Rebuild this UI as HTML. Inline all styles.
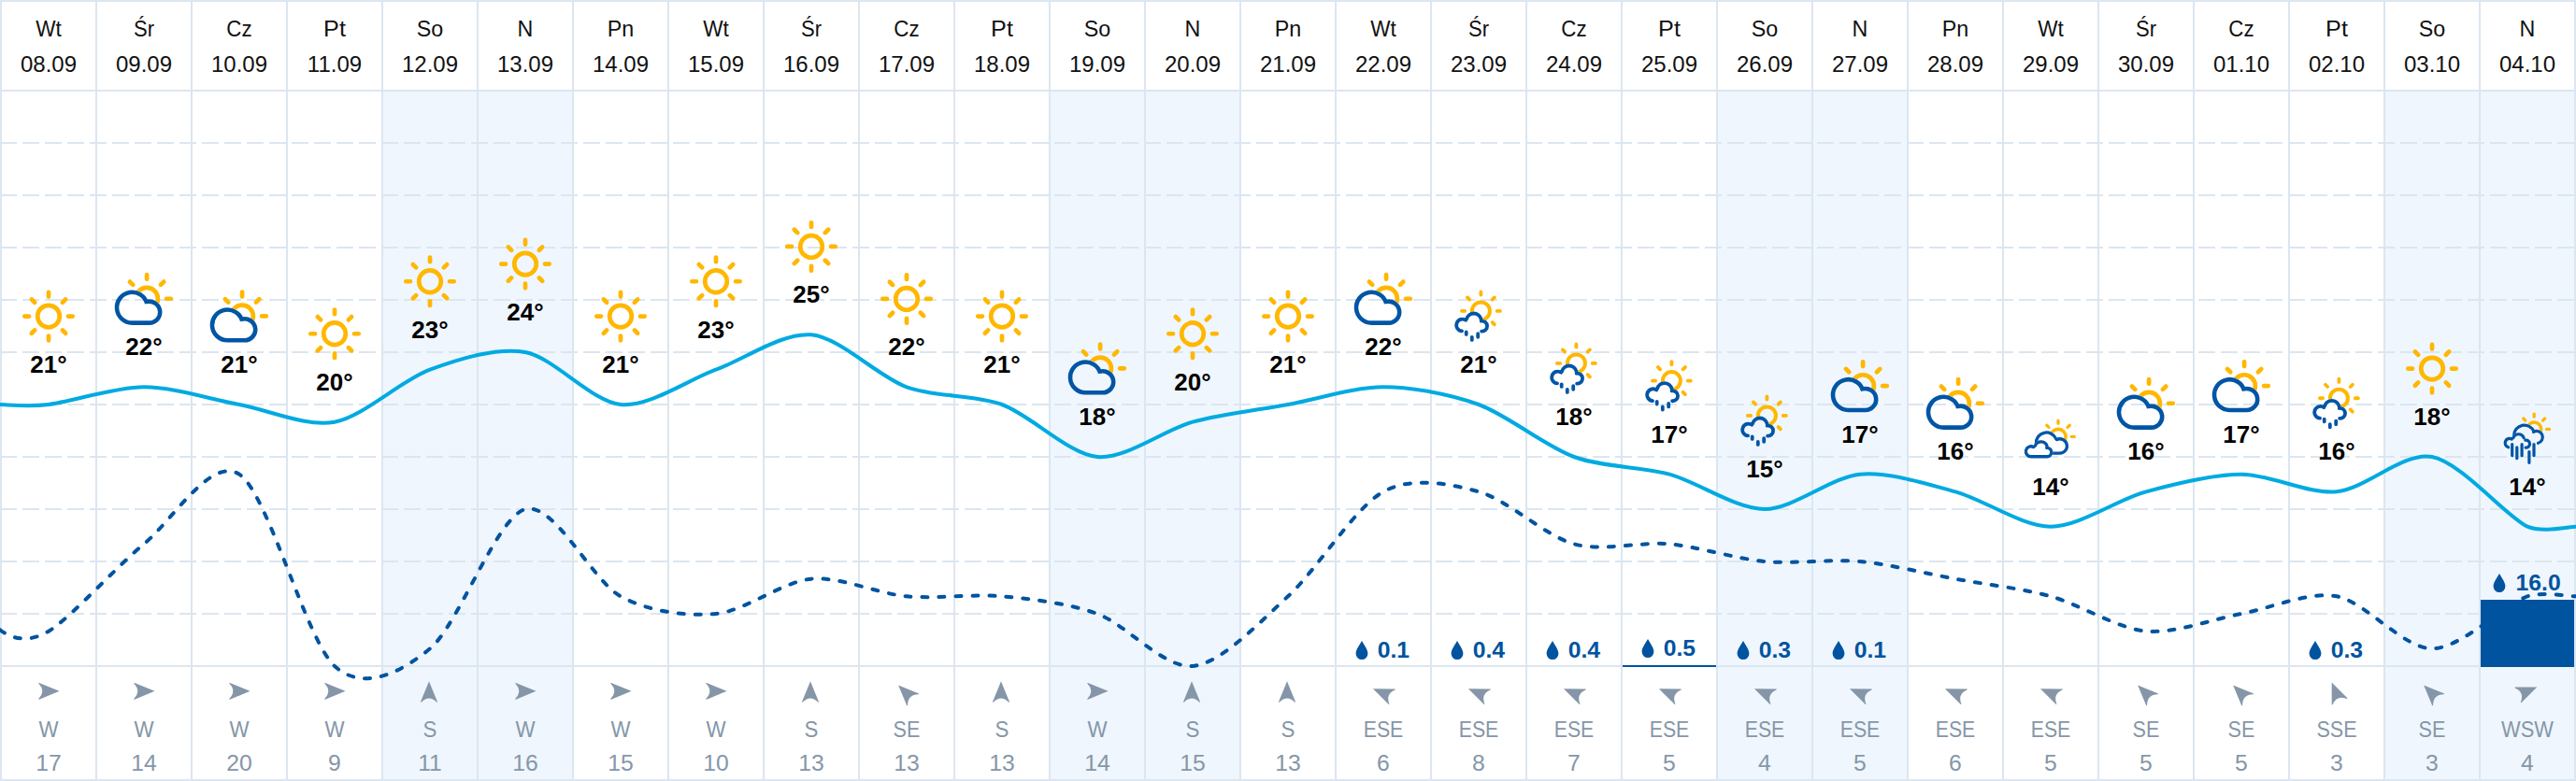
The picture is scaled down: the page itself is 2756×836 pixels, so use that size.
<!DOCTYPE html>
<html lang="pl"><head><meta charset="utf-8"><title>Prognoza długoterminowa</title>
<style>html,body{margin:0;padding:0;background:#fff}body{width:2756px;height:836px;overflow:hidden}svg{display:block}</style>
</head><body>
<svg width="2756" height="836" viewBox="0 0 2756 836">
<defs>
<g id="sun"><circle cx="0" cy="0" r="11.8" fill="none" stroke="#ffb700" stroke-width="4.7"/><path d="M21.00,0.00L25.70,0.00M14.85,14.85L18.17,18.17M0.00,21.00L0.00,25.70M-14.85,14.85L-18.17,18.17M-21.00,0.00L-25.70,0.00M-14.85,-14.85L-18.17,-18.17M-0.00,-21.00L-0.00,-25.70M14.85,-14.85L18.17,-18.17" stroke="#ffb700" stroke-width="4.7" stroke-linecap="round" fill="none"/></g>
<mask id="mcs" maskUnits="userSpaceOnUse" x="-40" y="-40" width="80" height="80"><rect x="-40" y="-40" width="80" height="80" fill="#fff"/><circle cx="-12.6" cy="9.3" r="18.7" fill="#000"/><circle cx="5.7" cy="14.2" r="13.8" fill="#000"/><rect x="-12.6" y="9.3" width="18.3" height="18.7" fill="#000"/></mask>
<g id="cs"><g mask="url(#mcs)"><circle cx="3.1" cy="-0.2" r="11.8" fill="none" stroke="#ffb700" stroke-width="4.7"/><path d="M-11.75,-15.05L-15.07,-18.37M3.10,-21.20L3.10,-25.90M17.95,-15.05L21.27,-18.37M24.10,-0.20L28.80,-0.20" stroke="#ffb700" stroke-width="4.7" stroke-linecap="round" fill="none"/></g><path d="M5.7,25.7L-12.6,25.7L-12.60,25.70A16.4,16.4 0 1 1 3.24,5.06M2.72,3.09A11.5,11.5 0 1 1 5.70,25.70" fill="none" stroke="#0055a5" stroke-width="4.6" stroke-linecap="butt" stroke-linejoin="round"/></g>
<mask id="mrs" maskUnits="userSpaceOnUse" x="-40" y="-40" width="80" height="80"><rect x="-40" y="-40" width="80" height="80" fill="#fff"/><circle cx="-17.4" cy="10.0" r="8.3" fill="#000"/><circle cx="-5.2" cy="5.5" r="9.9" fill="#000"/><circle cx="3.6" cy="11.1" r="7.4" fill="#000"/><rect x="-17.4" y="5.5" width="21.0" height="12" fill="#000"/></mask>
<g id="rs"><g mask="url(#mrs)"><circle cx="2.4" cy="-5.1" r="9.5" fill="none" stroke="#ffb700" stroke-width="4"/><path d="M-14.90,-5.10L-18.10,-5.10M-9.83,-17.33L-12.10,-19.60M2.40,-22.40L2.40,-25.60M14.63,-17.33L16.90,-19.60M19.70,-5.10L22.90,-5.10M14.63,7.13L16.90,9.40" stroke="#ffb700" stroke-width="3.8" stroke-linecap="round" fill="none"/></g><path d="M-17.96,16.38A6.4,6.4 0 1 1 -13.73,4.76M-12.93,3.43A8.0,8.0 0 0 1 2.53,3.43M2.64,5.68A5.5,5.5 0 1 1 3.12,16.58M-13.3,17.3V19.9M-7.2,22.8V25.9M-0.8,19.2V22.8" fill="none" stroke="#0055a5" stroke-width="3.8" stroke-linecap="round"/></g>
<mask id="mccs" maskUnits="userSpaceOnUse" x="-40" y="-40" width="80" height="80"><rect x="-40" y="-40" width="80" height="80" fill="#fff"/><circle cx="-4.5" cy="5.4" r="12.75" fill="#000"/><circle cx="9.7" cy="8.8" r="9.35" fill="#000"/></mask>
<mask id="mccf" maskUnits="userSpaceOnUse" x="-40" y="-40" width="80" height="80"><rect x="-40" y="-40" width="80" height="80" fill="#fff"/><circle cx="-21.1" cy="14.6" r="7.15" fill="#000"/><circle cx="-10.3" cy="10.9" r="8.35" fill="#000"/><circle cx="-3.9" cy="15.4" r="6.35" fill="#000"/><rect x="-21.1" y="10.9" width="17.200000000000003" height="10.85" fill="#000"/></mask>
<g id="ccs"><g mask="url(#mccs)"><circle cx="8" cy="-1.2" r="8.1" fill="none" stroke="#ffb700" stroke-width="3.6"/><path d="M-2.04,-11.24L-4.23,-13.43M8.00,-15.40L8.00,-18.50M18.04,-11.24L20.23,-13.43M22.20,-1.20L25.30,-1.20" stroke="#ffb700" stroke-width="3.3" stroke-linecap="round" fill="none"/></g><g mask="url(#mccf)"><path d="M-15.56,6.37A11.1,11.1 0 0 1 5.79,1.24M6.45,1.82A7.7,7.7 0 1 1 9.70,16.50L2,16.50" fill="none" stroke="#0055a5" stroke-width="3.3" stroke-linecap="round"/></g><path d="M-3.9,20.1L-21.1,20.1L-21.10,20.10A5.5,5.5 0 1 1 -18.35,9.84M-16.60,8.61A6.7,6.7 0 0 1 -3.83,9.17M-4.31,10.72A4.7,4.7 0 1 1 -3.90,20.10" fill="none" stroke="#0055a5" stroke-width="3.3" stroke-linecap="round" stroke-linejoin="round"/></g>
<mask id="mhs" maskUnits="userSpaceOnUse" x="-40" y="-40" width="80" height="80"><rect x="-40" y="-40" width="80" height="80" fill="#fff"/><circle cx="-3.3" cy="-2.5" r="12.7" fill="#000"/><circle cx="9.8" cy="-0.7" r="8.1" fill="#000"/></mask>
<mask id="mhf" maskUnits="userSpaceOnUse" x="-40" y="-40" width="80" height="80"><rect x="-40" y="-40" width="80" height="80" fill="#fff"/><circle cx="-19.1" cy="5.5" r="6.4" fill="#000"/><circle cx="-9.5" cy="2.1" r="7.6" fill="#000"/><circle cx="-1.5" cy="6.5" r="5.6" fill="#000"/></mask>
<g id="hrs"><g mask="url(#mhs)"><circle cx="7.2" cy="-9.2" r="7.5" fill="none" stroke="#ffb700" stroke-width="3.5"/><path d="M-2.28,-18.68L-4.33,-20.73M7.20,-22.60L7.20,-25.50M16.68,-18.68L18.73,-20.73M20.60,-9.20L23.50,-9.20" stroke="#ffb700" stroke-width="3.3" stroke-linecap="round" fill="none"/></g><g mask="url(#mhf)"><path d="M-14.39,-2.11A11.1,11.1 0 0 1 6.99,-6.66M6.55,-6.33A6.5,6.5 0 1 1 11.48,5.58" fill="none" stroke="#0055a5" stroke-width="3.2" stroke-linecap="round"/></g><path d="M-20.34,10.14A4.8,4.8 0 1 1 -16.70,1.34M-15.14,0.05A6.0,6.0 0 0 1 -3.86,0.05M-2.19,2.56A4.0,4.0 0 1 1 -1.85,10.48M-16.3,6.9V19M-11.2,10.1V22.1M-5.9,6.9V19M1.9,14.9V26.7M7,6.9V19" fill="none" stroke="#0055a5" stroke-width="3.2" stroke-linecap="round"/></g>
<path id="arw" d="M0,-11.2L8.9,10.4Q9.2,11.6 8,10.9Q0,3.2 -8,10.9Q-9.2,11.6 -8.9,10.4Z" fill="#8596a8"/>
<path id="drop" d="M0,-10C2.2,-6 6.4,-0.6 6.4,3.6A6.4,6.4 0 0 1 -6.4,3.6C-6.4,-0.6 -2.2,-6 0,-10Z" fill="#00539f"/>
</defs>
<rect width="2756" height="836" fill="#fff"/>
<rect x="408" y="98" width="206" height="736" fill="#eff6fd"/>
<rect x="1122" y="98" width="206" height="736" fill="#eff6fd"/>
<rect x="1836" y="98" width="206" height="736" fill="#eff6fd"/>
<rect x="2550" y="98" width="206" height="736" fill="#eff6fd"/>
<path d="M0,153H2756M0,209H2756M0,265H2756M0,321H2756M0,377H2756M0,433H2756M0,489H2756M0,545H2756M0,601H2756M0,657H2756" stroke="#dbe6f0" stroke-width="2" stroke-dasharray="18 6" fill="none"/>
<path d="M1,0V836M103,0V836M205,0V836M307,0V836M409,0V836M511,0V836M613,0V836M715,0V836M817,0V836M919,0V836M1021,0V836M1123,0V836M1225,0V836M1327,0V836M1429,0V836M1531,0V836M1633,0V836M1735,0V836M1837,0V836M1939,0V836M2041,0V836M2143,0V836M2245,0V836M2347,0V836M2449,0V836M2551,0V836M2653,0V836M2755,0V836M0,1H2756M0,97H2756M0,713H2756M0,835H2756" stroke="#dbe6f0" stroke-width="2" fill="none"/>
<rect x="1736" y="712" width="100" height="2" fill="#00539f"/>
<rect x="2654" y="642" width="100" height="72" fill="#00539f"/>
<g font-family="'Liberation Sans',sans-serif" font-size="24" fill="#111" text-anchor="middle">
<text transform="translate(52,38.6) scale(0.94,1)">Wt</text><text x="52" y="77">08.09</text>
<text transform="translate(154,38.6) scale(0.92,1)">Śr</text><text x="154" y="77">09.09</text>
<text transform="translate(256,38.6) scale(0.93,1)">Cz</text><text x="256" y="77">10.09</text>
<text transform="translate(358,38.6) scale(1.05,1)">Pt</text><text x="358" y="77">11.09</text>
<text transform="translate(460,38.6) scale(0.97,1)">So</text><text x="460" y="77">12.09</text>
<text transform="translate(562,38.6) scale(0.97,1)">N</text><text x="562" y="77">13.09</text>
<text transform="translate(664,38.6) scale(0.97,1)">Pn</text><text x="664" y="77">14.09</text>
<text transform="translate(766,38.6) scale(0.94,1)">Wt</text><text x="766" y="77">15.09</text>
<text transform="translate(868,38.6) scale(0.92,1)">Śr</text><text x="868" y="77">16.09</text>
<text transform="translate(970,38.6) scale(0.93,1)">Cz</text><text x="970" y="77">17.09</text>
<text transform="translate(1072,38.6) scale(1.05,1)">Pt</text><text x="1072" y="77">18.09</text>
<text transform="translate(1174,38.6) scale(0.97,1)">So</text><text x="1174" y="77">19.09</text>
<text transform="translate(1276,38.6) scale(0.97,1)">N</text><text x="1276" y="77">20.09</text>
<text transform="translate(1378,38.6) scale(0.97,1)">Pn</text><text x="1378" y="77">21.09</text>
<text transform="translate(1480,38.6) scale(0.94,1)">Wt</text><text x="1480" y="77">22.09</text>
<text transform="translate(1582,38.6) scale(0.92,1)">Śr</text><text x="1582" y="77">23.09</text>
<text transform="translate(1684,38.6) scale(0.93,1)">Cz</text><text x="1684" y="77">24.09</text>
<text transform="translate(1786,38.6) scale(1.05,1)">Pt</text><text x="1786" y="77">25.09</text>
<text transform="translate(1888,38.6) scale(0.97,1)">So</text><text x="1888" y="77">26.09</text>
<text transform="translate(1990,38.6) scale(0.97,1)">N</text><text x="1990" y="77">27.09</text>
<text transform="translate(2092,38.6) scale(0.97,1)">Pn</text><text x="2092" y="77">28.09</text>
<text transform="translate(2194,38.6) scale(0.94,1)">Wt</text><text x="2194" y="77">29.09</text>
<text transform="translate(2296,38.6) scale(0.92,1)">Śr</text><text x="2296" y="77">30.09</text>
<text transform="translate(2398,38.6) scale(0.93,1)">Cz</text><text x="2398" y="77">01.10</text>
<text transform="translate(2500,38.6) scale(1.05,1)">Pt</text><text x="2500" y="77">02.10</text>
<text transform="translate(2602,38.6) scale(0.97,1)">So</text><text x="2602" y="77">03.10</text>
<text transform="translate(2704,38.6) scale(0.97,1)">N</text><text x="2704" y="77">04.10</text>
</g>
<g font-family="'Liberation Sans',sans-serif" font-size="24" font-weight="bold" fill="#00539f">
<use href="#drop" x="1457" y="696"/><text transform="translate(1473.7,704) scale(1.03,1)">0.1</text>
<use href="#drop" x="1559" y="696"/><text transform="translate(1575.7,704) scale(1.03,1)">0.4</text>
<use href="#drop" x="1661" y="696"/><text transform="translate(1677.7,704) scale(1.03,1)">0.4</text>
<use href="#drop" x="1763" y="694"/><text transform="translate(1779.7,702) scale(1.03,1)">0.5</text>
<use href="#drop" x="1865" y="696"/><text transform="translate(1881.7,704) scale(1.03,1)">0.3</text>
<use href="#drop" x="1967" y="696"/><text transform="translate(1983.7,704) scale(1.03,1)">0.1</text>
<use href="#drop" x="2477" y="696"/><text transform="translate(2493.7,704) scale(1.03,1)">0.3</text>
<use href="#drop" x="2674" y="624"/><text transform="translate(2691.6,632) scale(1.03,1)">16.0</text>
</g>
<path d="M0.00,674.20C8.00,680.60 27.00,690.87 52.00,675.67C75.10,661.89 123.40,607.53 154.00,582.33C184.60,557.13 225.40,488.07 256.00,507.67C286.60,527.27 327.40,685.00 358.00,713.00C388.60,741.00 429.40,719.53 460.00,694.33C490.60,669.13 531.40,553.40 562.00,545.00C592.60,536.60 633.40,621.53 664.00,638.33C694.60,655.13 735.40,659.80 766.00,657.00C796.60,654.20 837.40,622.47 868.00,619.67C898.60,616.87 939.40,635.53 970.00,638.33C1000.60,641.13 1041.40,635.53 1072.00,638.33C1102.60,641.13 1143.40,645.80 1174.00,657.00C1204.60,668.20 1245.40,715.80 1276.00,713.00C1306.60,710.20 1347.40,666.33 1378.00,638.33C1408.60,610.33 1449.40,543.13 1480.00,526.33C1510.60,509.53 1551.40,517.93 1582.00,526.33C1612.60,534.73 1653.40,573.93 1684.00,582.33C1714.60,590.73 1755.40,579.53 1786.00,582.33C1816.60,585.13 1857.40,598.20 1888.00,601.00C1918.60,603.80 1959.40,598.20 1990.00,601.00C2020.60,603.80 2061.40,614.07 2092.00,619.67C2122.60,625.27 2163.40,629.93 2194.00,638.33C2224.60,646.73 2265.40,672.87 2296.00,675.67C2326.60,678.47 2367.40,662.60 2398.00,657.00C2428.60,651.40 2469.40,632.73 2500.00,638.33C2530.60,643.93 2571.40,694.33 2602.00,694.33C2632.60,694.33 2680.90,646.73 2704.00,638.33C2720.17,633.13 2748.20,638.33 2756.00,638.33" fill="none" stroke="#00539f" stroke-width="4" stroke-dasharray="6 12" stroke-linecap="round"/>
<path d="M0.00,433.00C7.80,433.00 28.90,435.80 52.00,433.00C75.10,430.20 123.40,414.33 154.00,414.33C184.60,414.33 225.40,427.40 256.00,433.00C286.60,438.60 327.40,457.27 358.00,451.67C388.60,446.07 429.40,406.87 460.00,395.67C490.60,384.47 531.40,371.40 562.00,377.00C592.60,382.60 633.40,430.20 664.00,433.00C694.60,435.80 735.40,406.87 766.00,395.67C796.60,384.47 837.40,355.53 868.00,358.33C898.60,361.13 939.40,403.13 970.00,414.33C1000.60,425.53 1041.40,421.80 1072.00,433.00C1102.60,444.20 1143.40,486.20 1174.00,489.00C1204.60,491.80 1245.40,460.07 1276.00,451.67C1306.60,443.27 1347.40,438.60 1378.00,433.00C1408.60,427.40 1449.40,414.33 1480.00,414.33C1510.60,414.33 1551.40,421.80 1582.00,433.00C1612.60,444.20 1653.40,477.80 1684.00,489.00C1714.60,500.20 1755.40,499.27 1786.00,507.67C1816.60,516.07 1857.40,545.00 1888.00,545.00C1918.60,545.00 1959.40,510.47 1990.00,507.67C2020.60,504.87 2061.40,517.93 2092.00,526.33C2122.60,534.73 2163.40,563.67 2194.00,563.67C2224.60,563.67 2265.40,534.73 2296.00,526.33C2326.60,517.93 2367.40,507.67 2398.00,507.67C2428.60,507.67 2469.40,529.13 2500.00,526.33C2530.60,523.53 2571.40,483.40 2602.00,489.00C2632.60,494.60 2680.90,552.44 2704.00,563.67C2720.17,570.63 2748.20,563.84 2756.00,563.87" fill="none" stroke="#00aae1" stroke-width="4" stroke-linecap="round"/>
<use href="#sun" x="52" y="338.60"/>
<use href="#cs" x="154" y="319.93"/>
<use href="#cs" x="256" y="338.60"/>
<use href="#sun" x="358" y="357.27"/>
<use href="#sun" x="460" y="301.27"/>
<use href="#sun" x="562" y="282.60"/>
<use href="#sun" x="664" y="338.60"/>
<use href="#sun" x="766" y="301.27"/>
<use href="#sun" x="868" y="263.93"/>
<use href="#sun" x="970" y="319.93"/>
<use href="#sun" x="1072" y="338.60"/>
<use href="#cs" x="1174" y="394.60"/>
<use href="#sun" x="1276" y="357.27"/>
<use href="#sun" x="1378" y="338.60"/>
<use href="#cs" x="1480" y="319.93"/>
<use href="#rs" x="1582" y="338.00"/>
<use href="#rs" x="1684" y="394.00"/>
<use href="#rs" x="1786" y="412.67"/>
<use href="#rs" x="1888" y="450.00"/>
<use href="#cs" x="1990" y="413.27"/>
<use href="#cs" x="2092" y="431.93"/>
<use href="#ccs" x="2194" y="468.67"/>
<use href="#cs" x="2296" y="431.93"/>
<use href="#cs" x="2398" y="413.27"/>
<use href="#rs" x="2500" y="431.33"/>
<use href="#sun" x="2602" y="394.60"/>
<use href="#hrs" x="2704" y="468.67"/>
<g font-family="'Liberation Sans',sans-serif" font-size="26" font-weight="bold" fill="#000" text-anchor="middle">
<text x="52" y="399.0">21°</text>
<text x="154" y="380.33">22°</text>
<text x="256" y="399.0">21°</text>
<text x="358" y="417.67">20°</text>
<text x="460" y="361.67">23°</text>
<text x="562" y="343.0">24°</text>
<text x="664" y="399.0">21°</text>
<text x="766" y="361.67">23°</text>
<text x="868" y="324.33">25°</text>
<text x="970" y="380.33">22°</text>
<text x="1072" y="399.0">21°</text>
<text x="1174" y="455.0">18°</text>
<text x="1276" y="417.67">20°</text>
<text x="1378" y="399.0">21°</text>
<text x="1480" y="380.33">22°</text>
<text x="1582" y="399.0">21°</text>
<text x="1684" y="455.0">18°</text>
<text x="1786" y="473.67">17°</text>
<text x="1888" y="511.0">15°</text>
<text x="1990" y="473.67">17°</text>
<text x="2092" y="492.33">16°</text>
<text x="2194" y="529.67">14°</text>
<text x="2296" y="492.33">16°</text>
<text x="2398" y="473.67">17°</text>
<text x="2500" y="492.33">16°</text>
<text x="2602" y="455.0">18°</text>
<text x="2704" y="529.67">14°</text>
</g>
<g transform="translate(52,740.85) rotate(90)"><use href="#arw" x="-1" y="-0.35"/></g>
<g transform="translate(154,740.85) rotate(90)"><use href="#arw" x="-1" y="-0.35"/></g>
<g transform="translate(256,740.85) rotate(90)"><use href="#arw" x="-1" y="-0.35"/></g>
<g transform="translate(358,740.85) rotate(90)"><use href="#arw" x="-1" y="-0.35"/></g>
<g transform="translate(460,740.85) rotate(0)"><use href="#arw" x="-1" y="-0.35"/></g>
<g transform="translate(562,740.85) rotate(90)"><use href="#arw" x="-1" y="-0.35"/></g>
<g transform="translate(664,740.85) rotate(90)"><use href="#arw" x="-1" y="-0.35"/></g>
<g transform="translate(766,740.85) rotate(90)"><use href="#arw" x="-1" y="-0.35"/></g>
<g transform="translate(868,740.85) rotate(0)"><use href="#arw" x="-1" y="-0.35"/></g>
<g transform="translate(970,740.85) rotate(-45)"><use href="#arw" x="-1" y="-0.35"/></g>
<g transform="translate(1072,740.85) rotate(0)"><use href="#arw" x="-1" y="-0.35"/></g>
<g transform="translate(1174,740.85) rotate(90)"><use href="#arw" x="-1" y="-0.35"/></g>
<g transform="translate(1276,740.85) rotate(0)"><use href="#arw" x="-1" y="-0.35"/></g>
<g transform="translate(1378,740.85) rotate(0)"><use href="#arw" x="-1" y="-0.35"/></g>
<g transform="translate(1480,740.85) rotate(-67.5)"><use href="#arw" x="-1" y="-0.35"/></g>
<g transform="translate(1582,740.85) rotate(-67.5)"><use href="#arw" x="-1" y="-0.35"/></g>
<g transform="translate(1684,740.85) rotate(-67.5)"><use href="#arw" x="-1" y="-0.35"/></g>
<g transform="translate(1786,740.85) rotate(-67.5)"><use href="#arw" x="-1" y="-0.35"/></g>
<g transform="translate(1888,740.85) rotate(-67.5)"><use href="#arw" x="-1" y="-0.35"/></g>
<g transform="translate(1990,740.85) rotate(-67.5)"><use href="#arw" x="-1" y="-0.35"/></g>
<g transform="translate(2092,740.85) rotate(-67.5)"><use href="#arw" x="-1" y="-0.35"/></g>
<g transform="translate(2194,740.85) rotate(-67.5)"><use href="#arw" x="-1" y="-0.35"/></g>
<g transform="translate(2296,740.85) rotate(-45)"><use href="#arw" x="-1" y="-0.35"/></g>
<g transform="translate(2398,740.85) rotate(-45)"><use href="#arw" x="-1" y="-0.35"/></g>
<g transform="translate(2500,740.85) rotate(-22.5)"><use href="#arw" x="-1" y="-0.35"/></g>
<g transform="translate(2602,740.85) rotate(-45)"><use href="#arw" x="-1" y="-0.35"/></g>
<g transform="translate(2704,740.85) rotate(67.5)"><use href="#arw" x="-1" y="-0.35"/></g>
<g font-family="'Liberation Sans',sans-serif" font-size="24" fill="#8596a8" text-anchor="middle">
<text transform="translate(52,789) scale(0.93,1)">W</text><text transform="translate(52,825.4) scale(1.03,1)">17</text>
<text transform="translate(154,789) scale(0.93,1)">W</text><text transform="translate(154,825.4) scale(1.03,1)">14</text>
<text transform="translate(256,789) scale(0.93,1)">W</text><text transform="translate(256,825.4) scale(1.03,1)">20</text>
<text transform="translate(358,789) scale(0.93,1)">W</text><text transform="translate(358,825.4) scale(1.03,1)">9</text>
<text transform="translate(460,789) scale(0.93,1)">S</text><text transform="translate(460,825.4) scale(1.03,1)">11</text>
<text transform="translate(562,789) scale(0.93,1)">W</text><text transform="translate(562,825.4) scale(1.03,1)">16</text>
<text transform="translate(664,789) scale(0.93,1)">W</text><text transform="translate(664,825.4) scale(1.03,1)">15</text>
<text transform="translate(766,789) scale(0.93,1)">W</text><text transform="translate(766,825.4) scale(1.03,1)">10</text>
<text transform="translate(868,789) scale(0.93,1)">S</text><text transform="translate(868,825.4) scale(1.03,1)">13</text>
<text transform="translate(970,789) scale(0.9,1)">SE</text><text transform="translate(970,825.4) scale(1.03,1)">13</text>
<text transform="translate(1072,789) scale(0.93,1)">S</text><text transform="translate(1072,825.4) scale(1.03,1)">13</text>
<text transform="translate(1174,789) scale(0.93,1)">W</text><text transform="translate(1174,825.4) scale(1.03,1)">14</text>
<text transform="translate(1276,789) scale(0.93,1)">S</text><text transform="translate(1276,825.4) scale(1.03,1)">15</text>
<text transform="translate(1378,789) scale(0.93,1)">S</text><text transform="translate(1378,825.4) scale(1.03,1)">13</text>
<text transform="translate(1480,789) scale(0.887,1)">ESE</text><text transform="translate(1480,825.4) scale(1.03,1)">6</text>
<text transform="translate(1582,789) scale(0.887,1)">ESE</text><text transform="translate(1582,825.4) scale(1.03,1)">8</text>
<text transform="translate(1684,789) scale(0.887,1)">ESE</text><text transform="translate(1684,825.4) scale(1.03,1)">7</text>
<text transform="translate(1786,789) scale(0.887,1)">ESE</text><text transform="translate(1786,825.4) scale(1.03,1)">5</text>
<text transform="translate(1888,789) scale(0.887,1)">ESE</text><text transform="translate(1888,825.4) scale(1.03,1)">4</text>
<text transform="translate(1990,789) scale(0.887,1)">ESE</text><text transform="translate(1990,825.4) scale(1.03,1)">5</text>
<text transform="translate(2092,789) scale(0.887,1)">ESE</text><text transform="translate(2092,825.4) scale(1.03,1)">6</text>
<text transform="translate(2194,789) scale(0.887,1)">ESE</text><text transform="translate(2194,825.4) scale(1.03,1)">5</text>
<text transform="translate(2296,789) scale(0.9,1)">SE</text><text transform="translate(2296,825.4) scale(1.03,1)">5</text>
<text transform="translate(2398,789) scale(0.9,1)">SE</text><text transform="translate(2398,825.4) scale(1.03,1)">5</text>
<text transform="translate(2500,789) scale(0.9,1)">SSE</text><text transform="translate(2500,825.4) scale(1.03,1)">3</text>
<text transform="translate(2602,789) scale(0.9,1)">SE</text><text transform="translate(2602,825.4) scale(1.03,1)">3</text>
<text transform="translate(2704,789) scale(0.913,1)">WSW</text><text transform="translate(2704,825.4) scale(1.03,1)">4</text>
</g>
</svg>
</body></html>
